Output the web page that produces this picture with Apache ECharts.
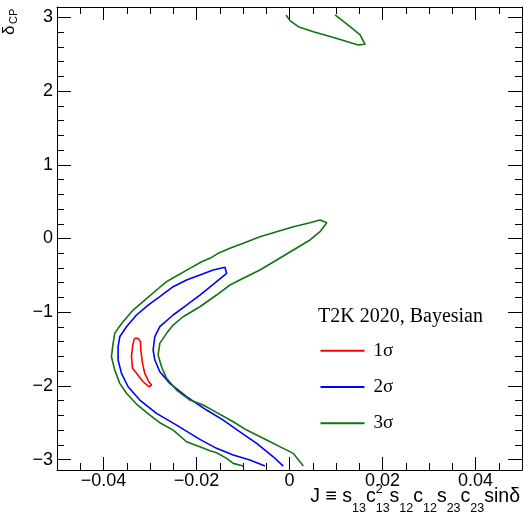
<!DOCTYPE html>
<html>
<head>
<meta charset="utf-8">
<script src="https://cdn.jsdelivr.net/npm/echarts@6/dist/echarts.min.js"></script>
<style>
html, body { margin: 0; padding: 0; background: #fff; }
#chart { width: 523px; height: 518px; }
</style>
</head>
<body>
<div id="chart"></div>
<script>
// contours: [J, deltaCP]
const sigma3Main = [
  [-0.00995, -3.088], [-0.0121, -3.052], [-0.01352, -2.984], [-0.01568, -2.908], [-0.01712, -2.881],
  [-0.01927, -2.826], [-0.02214, -2.758], [-0.02502, -2.600], [-0.02789, -2.500], [-0.03004, -2.396],
  [-0.0329, -2.247], [-0.03506, -2.101], [-0.0365, -1.966], [-0.03758, -1.785], [-0.03829, -1.604],
  [-0.0385, -1.581], [-0.03794, -1.423], [-0.03758, -1.287], [-0.03686, -1.219], [-0.03579, -1.129],
  [-0.03363, -0.971], [-0.03112, -0.835], [-0.0286, -0.699], [-0.02644, -0.586], [-0.02394, -0.495],
  [-0.02143, -0.405], [-0.01891, -0.315], [-0.01712, -0.269], [-0.01533, -0.201], [-0.01281, -0.133],
  [-0.00995, -0.065], [-0.00635, 0.024], [-0.00276, 0.092], [0.00082, 0.160], [0.00441, 0.214],
  [0.00657, 0.251], [0.00801, 0.214],
  [0.00657, 0.092], [0.00441, -0.020], [0.00082, -0.156], [-0.00276, -0.292], [-0.00635, -0.428],
  [-0.00995, -0.540], [-0.01281, -0.631], [-0.01568, -0.767], [-0.01927, -0.926], [-0.02287, -1.062],
  [-0.02502, -1.174], [-0.02644, -1.287], [-0.02789, -1.423], [-0.02825, -1.581], [-0.02752, -1.740],
  [-0.02644, -1.898], [-0.02429, -2.056], [-0.02143, -2.192], [-0.01856, -2.260], [-0.01533, -2.373],
  [-0.0121, -2.487], [-0.00922, -2.600], [-0.00491, -2.735], [-0.00134, -2.848], [0.00082, -2.916],
  [0.00226, -3.030], [0.00297, -3.088]
];
const sigma3Top = [
  [-0.00075, 3.034], [0.00011, 2.957], [0.00189, 2.875], [0.00512, 2.807], [0.00872, 2.740],
  [0.01232, 2.672], [0.01481, 2.627], [0.01626, 2.636], [0.01662, 2.659], [0.01518, 2.762],
  [0.01303, 2.875], [0.0098, 3.034]
];
const sigma2 = [
  [-0.00528, -3.088], [-0.00851, -3.007], [-0.0121, -2.939], [-0.01568, -2.848], [-0.01927, -2.726],
  [-0.02429, -2.532], [-0.0286, -2.373], [-0.03219, -2.192], [-0.03471, -2.012], [-0.03613, -1.830],
  [-0.03686, -1.649], [-0.03686, -1.469], [-0.0365, -1.333], [-0.03506, -1.197], [-0.0329, -1.038],
  [-0.0304, -0.903], [-0.02789, -0.790], [-0.02502, -0.654], [-0.02214, -0.563], [-0.01927, -0.495],
  [-0.01641, -0.428], [-0.01389, -0.391], [-0.01352, -0.472],
  [-0.01641, -0.622], [-0.01927, -0.767], [-0.02214, -0.903], [-0.02502, -1.038], [-0.02789, -1.197],
  [-0.02896, -1.333], [-0.02933, -1.513], [-0.02896, -1.649], [-0.02789, -1.808], [-0.02573, -1.966],
  [-0.02214, -2.147], [-0.01783, -2.328], [-0.01425, -2.464], [-0.01066, -2.623], [-0.00706, -2.780],
  [-0.00349, -2.962], [-0.00134, -3.088]
];
const sigma1 = [
  [-0.03327, -1.355], [-0.03256, -1.355], [-0.03204, -1.401], [-0.03198, -1.513], [-0.03161, -1.694],
  [-0.03112, -1.830], [-0.03025, -1.944], [-0.02968, -1.989], [-0.03019, -2.012], [-0.03148, -1.944],
  [-0.0329, -1.830], [-0.03376, -1.762], [-0.03398, -1.604], [-0.03376, -1.469], [-0.03342, -1.368],
  [-0.03327, -1.355]
];
const legendNames = ['1σ', '2σ', '3σ'];
const colors = ['#ff0000', '#0000ff', '#137313'];
const legendTitle = 'T2K 2020, Bayesian';
// x title pieces: n = normal, b = subscript, p = superscript (stacked over next subscript)
const xTitleParts = [['n', 'J ≡ s'], ['b', '13'], ['n', 'c'], ['p', '2'], ['b', '13'], ['n', 's'], ['b', '12'],
  ['n', 'c'], ['b', '12'], ['n', 's'], ['b', '23'], ['n', 'c'], ['b', '23'], ['n', 'sinδ']];

const SANS = '"Liberation Sans", Arial, sans-serif';
const SERIF = '"Liberation Serif", "Times New Roman", serif';

function fmt(v) {
  if (Math.abs(v) < 1e-9) return '0';
  return String(+v.toFixed(4)).replace('-', '\u2212');
}

const ctx = document.createElement('canvas').getContext('2d');
function textW(t, size) {
  ctx.font = size + 'px ' + SANS;
  return ctx.measureText(t).width;
}

// x axis title laid out by hand (sub/superscripts)
const mainSize = 19.5, smallSize = 12.5, baseY = 503.5, rightX = 520;
let parts = [], cur = 0, pending = null;
xTitleParts.forEach(([k, t]) => {
  const size = k === 'n' ? mainSize : smallSize;
  const w = textW(t, size);
  const dy = k === 'b' ? 9 : k === 'p' ? -10 : 0;
  if (k === 'p') { parts.push({t, size, dx: cur, dy}); pending = w; return; }
  parts.push({t, size, dx: cur, dy});
  cur += pending != null ? Math.max(w, pending) : w;
  pending = null;
});
const startX = rightX - cur;
const titleEls = parts.map(p => ({
  type: 'text',
  x: startX + p.dx,
  y: baseY + p.dy - 0.35 * p.size,
  silent: true,
  style: {text: p.t, font: p.size + 'px ' + SANS, fill: '#000', align: 'left', verticalAlign: 'middle'}
}));

// y axis title, rotated
const yTitleEls = [
  {type: 'text', x: 15.5 - 0.35 * 17, y: 35, rotation: Math.PI / 2, silent: true,
    style: {text: 'δ', font: '17px ' + SANS, fill: '#000', align: 'left', verticalAlign: 'middle'}},
  {type: 'text', x: 18 - 0.35 * 11, y: 24, rotation: Math.PI / 2, silent: true,
    style: {text: 'CP', font: '11px ' + SANS, fill: '#000', align: 'left', verticalAlign: 'middle'}}
];

function xAx(pos) {
  return {
    type: 'value', position: pos, min: -0.05, max: 0.05, splitNumber: 5,
    minInterval: 0.02, maxInterval: 0.02,
    axisLine: {show: true, onZero: false, lineStyle: {color: '#000', width: 1}},
    axisTick: {show: true, inside: true, length: 13, lineStyle: {color: '#000'}},
    minorTick: {show: true, splitNumber: 4, length: 7, lineStyle: {color: '#000'}},
    splitLine: {show: false},
    axisLabel: {show: pos === 'bottom', color: '#000', fontFamily: SANS, fontSize: 18, margin: 2,
      showMinLabel: false, showMaxLabel: false, formatter: fmt}
  };
}
function yAx(pos) {
  return {
    type: 'value', position: pos, min: -Math.PI, max: Math.PI, splitNumber: 6,
    minInterval: 1, maxInterval: 1,
    axisLine: {show: true, onZero: false, lineStyle: {color: '#000', width: 1}},
    axisTick: {show: true, inside: true, length: 14, lineStyle: {color: '#000'}},
    minorTick: {show: true, splitNumber: 5, length: 7, lineStyle: {color: '#000'}},
    splitLine: {show: false},
    axisLabel: {show: pos === 'left', color: '#000', fontFamily: SANS, fontSize: 18, margin: 4,
      showMinLabel: false, showMaxLabel: false, formatter: fmt}
  };
}

function contour(name, data, color) {
  return {
    name, type: 'line', data, xAxisIndex: 0, yAxisIndex: 0,
    showSymbol: false, symbol: 'none', smooth: false,
    lineStyle: {color, width: 1.6}, itemStyle: {color}
  };
}

const chart = echarts.init(document.getElementById('chart'));
chart.setOption({
  animation: false,
  backgroundColor: '#fff',
  grid: {left: 57, top: 7, width: 465, height: 463, containLabel: false},
  xAxis: [xAx('bottom'), xAx('top')],
  yAxis: [yAx('left'), yAx('right')],
  title: {
    text: legendTitle, left: 318, top: 305.5, padding: 0,
    textStyle: {fontFamily: SERIF, fontSize: 20, fontWeight: 'normal', color: '#000', lineHeight: 22}
  },
  legend: {
    data: legendNames, orient: 'vertical', left: 320.5, top: 340.7, padding: 0,
    itemWidth: 44, itemHeight: 2, itemGap: 16.3, icon: 'rect',
    textStyle: {fontFamily: SERIF, fontSize: 19, lineHeight: 20, color: '#000', padding: [0, 0, 0, 4]}
  },
  graphic: titleEls.concat(yTitleEls),
  series: [
    contour('1σ', sigma1, colors[0]),
    contour('2σ', sigma2, colors[1]),
    contour('3σ', sigma3Main, colors[2]),
    contour('3σ', sigma3Top, colors[2])
  ]
});
</script>
</body>
</html>
